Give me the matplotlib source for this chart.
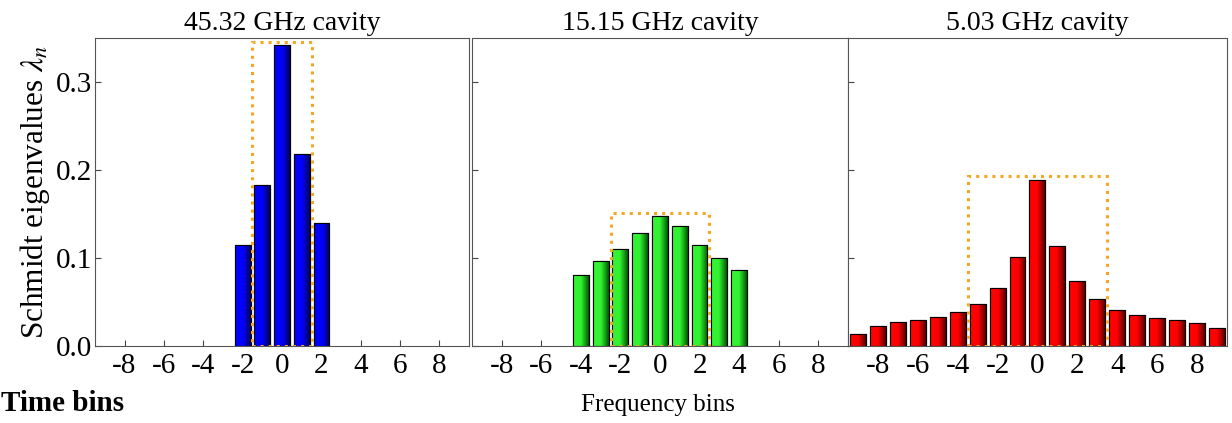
import numpy as np
import matplotlib
matplotlib.use('Agg')
from matplotlib import pyplot as plt
from matplotlib.patches import Rectangle
from matplotlib.colors import LinearSegmentedColormap

plt.rcParams['font.family'] = 'Liberation Serif'
plt.rcParams['mathtext.fontset'] = 'stix'
plt.rcParams['axes.unicode_minus'] = False

titles = ['45.32 GHz cavity', '15.15 GHz cavity', '5.03 GHz cavity']

bins_45 = [-2, -1, 0, 1, 2]
vals_45 = [0.115, 0.183, 0.342, 0.218, 0.140]

bins_15 = [-4, -3, -2, -1, 0, 1, 2, 3, 4]
vals_15 = [0.081, 0.097, 0.110, 0.129, 0.148, 0.136, 0.115, 0.100, 0.086]

bins_5 = list(range(-9, 10))
vals_5 = [0.014, 0.023, 0.027, 0.030, 0.033, 0.039, 0.048, 0.066, 0.101, 0.189,
          0.114, 0.074, 0.053, 0.041, 0.035, 0.032, 0.029, 0.026, 0.020]

# dotted boxes: (x from, x to, height)
boxes = [(-1.5, 1.5, 0.345), (-2.5, 2.5, 0.151), (-3.5, 3.5, 0.193)]

bar_colors = [((0.0, 0.0, 1.0), (0.0, 0.0, 0.35)),
              ((0.2, 0.95, 0.2), (0.0, 0.35, 0.0)),
              ((1.0, 0.0, 0.0), (0.35, 0.0, 0.0))]

data = [(bins_45, vals_45), (bins_15, vals_15), (bins_5, vals_5)]

fig = plt.figure(figsize=(12.32, 4.23), dpi=100)
lefts = [0.0771, 0.3831, 0.6883]
widths = [0.3036, 0.3052, 0.3076]

grad = np.linspace(0, 1, 64).reshape(1, -1)
for i, (x, y) in enumerate(data):
    ax = fig.add_axes([lefts[i], 0.182, widths[i], 0.728])
    light, dark = bar_colors[i]
    cmap = LinearSegmentedColormap.from_list('g%d' % i, [light, light, dark])
    bars = ax.bar(x, y, width=0.8, color=light, edgecolor='black', linewidth=0.8, zorder=2)
    for b in bars:
        im = ax.imshow(grad, cmap=cmap, aspect='auto', zorder=2.5,
                       extent=[b.get_x(), b.get_x() + b.get_width(), 0, b.get_height()])
        im.set_clip_path(b)
        ax.add_patch(Rectangle((b.get_x(), 0), b.get_width(), b.get_height(),
                               fill=False, edgecolor='black', linewidth=0.8, zorder=3))
    x0, x1, h = boxes[i]
    ax.add_patch(Rectangle((x0, 0), x1 - x0, h, fill=False, edgecolor='#f5a623',
                           linestyle=':', linewidth=2.2, zorder=4))
    ax.set_xlim(-9.5, 9.5)
    ax.set_ylim(0, 0.35)
    ax.set_xticks([-8, -6, -4, -2, 0, 2, 4, 6, 8])
    ax.set_yticks([0.0, 0.1, 0.2, 0.3])
    ax.tick_params(direction='in', length=4, labelsize=21, color='#444444')
    ax.tick_params(axis='x', pad=5)
    ax.tick_params(axis='y', pad=2)
    if i == 0:
        ax.set_yticklabels(['0.0', '0.1', '0.2', '0.3'])
        ax.set_ylabel(r'Schmidt eigenvalues $\lambda_n$', fontsize=22.5, labelpad=3)
    else:
        ax.set_yticklabels([])
    ax.set_title(titles[i], fontsize=20, pad=6)
    for s in ax.spines.values():
        s.set_color('#555555')

fig.text(0.001, 0.028, 'Time bins', fontsize=21, fontweight='bold')
fig.text(0.534, 0.028, 'Frequency bins', fontsize=18, ha='center')

plt.savefig('out.png', dpi=100, facecolor='w')
